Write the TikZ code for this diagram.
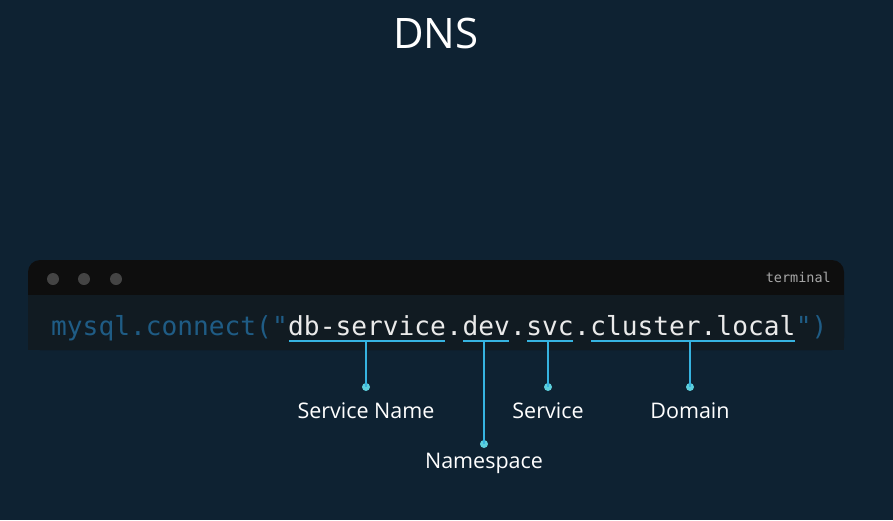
\documentclass[tikz,border=0pt]{standalone}
\usepackage{fontspec}
\setmainfont{Open Sans}
\setmonofont{DejaVu Sans Mono}
\definecolor{bgc}{HTML}{0E2232}
\definecolor{headc}{HTML}{0E0E0E}
\definecolor{bodyc}{HTML}{111B22}
\definecolor{dotc}{HTML}{444444}
\definecolor{codeblue}{HTML}{1F5C85}
\definecolor{codewhite}{HTML}{EAEAEA}
\definecolor{linec}{HTML}{36B3E0}
\definecolor{tipc}{HTML}{5CCFDC}
\definecolor{termtxt}{HTML}{A8A8A8}
\tikzset{
  code/.style={font=\ttfamily\fontsize{26.2}{30}\selectfont, inner sep=0pt, anchor=base west},
  uline/.style={draw=linec, line width=2pt},
  lead/.style={draw=linec, line width=2pt},
  tipdot/.style={circle, fill=tipc, inner sep=0pt, minimum size=8pt},
  lbl/.style={font=\fontsize{21.5}{25}\selectfont, text=white, inner sep=0pt},
  wdot/.style={circle, fill=dotc, inner sep=0pt, minimum size=12pt}
}
\begin{document}
\begin{tikzpicture}[x=1pt,y=-1pt]
\useasboundingbox (0,0) rectangle (893,520);
\fill[bgc] (0,0) rectangle (893,520);
% terminal
\fill[headc, rounded corners=12pt] (28,350) -- (28,260) -- (844,260) -- (844,350) -- cycle;
\fill[bodyc] (28,295) rectangle (844,350);
\fill[headc] (28,276) rectangle (844,295);
\node[wdot] (d1) at (53,279) {};
\node[wdot] (d2) at (84,279) {};
\node[wdot] (d3) at (116,279) {};
\node[font=\ttfamily\fontsize{13.5}{16}\selectfont, text=termtxt, anchor=base east, inner sep=0pt] (term) at (831,282) {terminal};
% title
\node[font=\fontsize{42}{48}\selectfont, text=white, inner sep=0pt, anchor=base] (title) at (436,48) {DNS};
% code line
\node[code, text=codeblue] (pre) at (51,335) {mysql.connect("};
\node[code, text=codewhite] (db) at (pre.base east) {db-service};
\node[code, text=codewhite] (dot1) at (db.base east) {.};
\node[code, text=codewhite] (dev) at (dot1.base east) {dev};
\node[code, text=codewhite] (dot2) at (dev.base east) {.};
\node[code, text=codewhite] (svc) at (dot2.base east) {svc};
\node[code, text=codewhite] (dot3) at (svc.base east) {.};
\node[code, text=codewhite] (dom) at (dot3.base east) {cluster.local};
\node[code, text=codeblue] (post) at (dom.base east) {")};
% underlines
\foreach \n in {db,dev,svc,dom}{
  \draw[uline] ([xshift=1pt]\n.base west |- 0,341) -- ([xshift=-1pt]\n.base east |- 0,341);
}
% labels
\node[lbl] (lsn) at (366,411) {Service Name};
\node[lbl] (lns) at (484,463) {Namespace};
\node[lbl] (lsv) at (548,411) {Service};
\node[lbl] (ldm) at (690,411) {Domain};
% tip dots
\node[tipdot] (tsn) at (366,387) {};
\node[tipdot] (tns) at (484,444) {};
\node[tipdot] (tsv) at (548,387) {};
\node[tipdot] (tdm) at (690,387) {};
% leaders
\coordinate (csn) at (366,341);
\coordinate (cns) at (484,341);
\coordinate (csv) at (548,341);
\coordinate (cdm) at (690,341);
\draw[lead] (csn) -- (tsn.center);
\draw[lead] (cns) -- (tns.center);
\draw[lead] (csv) -- (tsv.center);
\draw[lead] (cdm) -- (tdm.center);
\end{tikzpicture}
\end{document}
